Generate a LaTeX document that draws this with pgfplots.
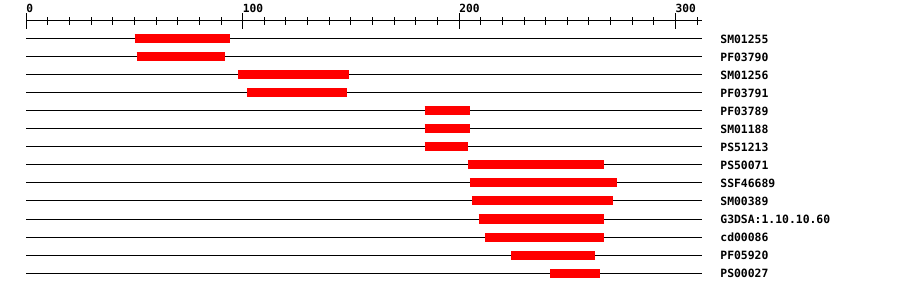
\documentclass[border=0pt]{standalone}
\usepackage{pgfplots}
\pgfplotsset{compat=1.18}
\usepackage{fontspec}
\setmainfont{DejaVu Sans Mono}
\begin{document}
\begin{tikzpicture}
\begin{axis}[
  name=ax,
  scale only axis,
  width=675.2pt, height=252pt,
  xmin=0, xmax=312, ymin=-14, ymax=0,
  clip=false,
  axis x line*=top,
  axis y line*=right,
  y axis line style={draw=none},
  x axis line style={black, line width=1pt},
  xtick={0,100,200,300},
  minor xtick={10,20,30,40,50,60,70,80,90,110,120,130,140,150,160,170,180,190,210,220,230,240,250,260,270,280,290,310},
  tick align=center,
  xtick style={black, line width=1pt},
  major tick length=15.4pt,
  minor tick length=7.4pt,
  xticklabel style={anchor=south west, inner sep=0pt, font=\bfseries\fontsize{11.2}{12}\selectfont},
  /pgf/number format/assume math mode=true,
  ytick={-1,-2,-3,-4,-5,-6,-7,-8,-9,-10,-11,-12,-13,-14},
  yticklabels={SM01255,PF03790,SM01256,PF03791,PF03789,SM01188,PS51213,PS50071,SSF46689,SM00389,G3DSA:1.10.10.60,cd00086,PF05920,PS00027},
  ytick style={draw=none},
  yticklabel style={anchor=west, inner sep=0pt, xshift=11pt, font=\bfseries\fontsize{11.4}{12}\selectfont},
]
\pgfplotsinvokeforeach{1,...,14}{
  \addplot[black, line width=1pt] coordinates {(0,-#1) (312,-#1)};
}
\addplot[red, line width=9pt, unbounded coords=jump] coordinates {
(50,-1) (94,-1) (nan,nan)
(51,-2) (92,-2) (nan,nan)
(98,-3) (149,-3) (nan,nan)
(102,-4) (148,-4) (nan,nan)
(184,-5) (205,-5) (nan,nan)
(184,-6) (205,-6) (nan,nan)
(184,-7) (204,-7) (nan,nan)
(204,-8) (267,-8) (nan,nan)
(205,-9) (273,-9) (nan,nan)
(206,-10) (271,-10) (nan,nan)
(209,-11) (267,-11) (nan,nan)
(212,-12) (267,-12) (nan,nan)
(224,-13) (263,-13) (nan,nan)
(242,-14) (265,-14)
};
\end{axis}
\pgfresetboundingbox
\path (ax.south west) ++(-26.3pt,-19pt) rectangle ++(900pt,292pt);
\end{tikzpicture}
\end{document}
